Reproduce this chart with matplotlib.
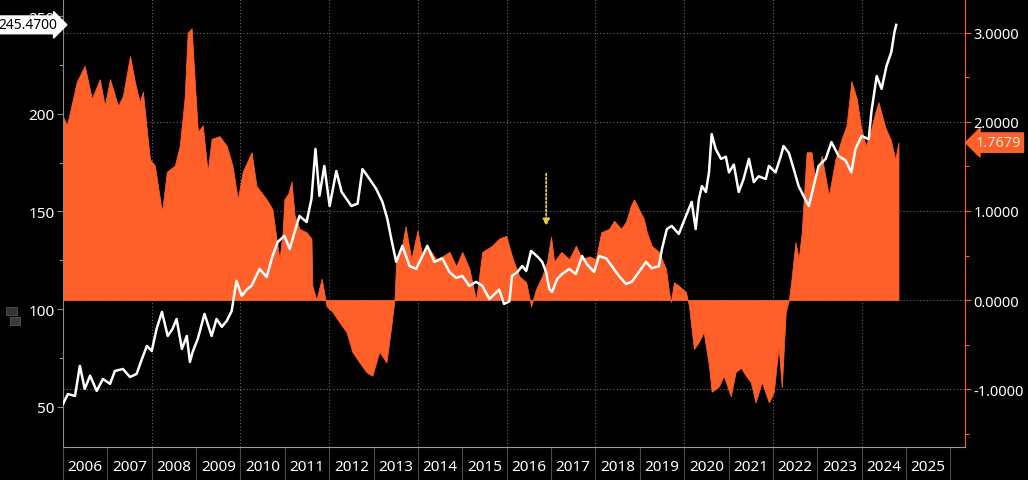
import numpy as np
import matplotlib
matplotlib.use("Agg")
import matplotlib.pyplot as plt
from matplotlib.ticker import MultipleLocator, FixedLocator, NullFormatter
from matplotlib.patches import Rectangle

plt.rcParams["font.family"] = ["Noto Sans", "DejaVu Sans"]

# White line (left axis) - decimal year / value
line_t = [2006.00, 2006.11, 2006.27, 2006.38, 2006.49, 2006.61, 2006.76, 2006.90, 2007.06, 2007.17,
          2007.35, 2007.51, 2007.66, 2007.78, 2007.89, 2008.00, 2008.11, 2008.23, 2008.36, 2008.47,
          2008.56, 2008.68, 2008.79, 2008.86, 2008.92, 2009.04, 2009.19, 2009.35, 2009.46, 2009.58,
          2009.69, 2009.80, 2009.91, 2010.03, 2010.14, 2010.25, 2010.43, 2010.59, 2010.72, 2010.84,
          2010.99, 2011.11, 2011.22, 2011.33, 2011.49, 2011.60, 2011.69, 2011.78, 2011.89, 2012.01,
          2012.16, 2012.28, 2012.39, 2012.50, 2012.64, 2012.75, 2012.91, 2013.06, 2013.20, 2013.31,
          2013.40, 2013.51, 2013.65, 2013.81, 2013.96, 2014.10, 2014.21, 2014.37, 2014.55, 2014.71,
          2014.86, 2015.00, 2015.16, 2015.31, 2015.45, 2015.61, 2015.83, 2015.94, 2016.06, 2016.12,
          2016.24, 2016.35, 2016.44, 2016.55, 2016.69, 2016.80, 2016.89, 2016.96, 2017.02, 2017.14,
          2017.25, 2017.41, 2017.56, 2017.70, 2017.81, 2017.97, 2018.08, 2018.24, 2018.37, 2018.53,
          2018.69, 2018.82, 2018.98, 2019.14, 2019.27, 2019.43, 2019.50, 2019.61, 2019.72, 2019.88,
          2020.04, 2020.17, 2020.26, 2020.33, 2020.40, 2020.49, 2020.56, 2020.62, 2020.71, 2020.83,
          2020.94, 2021.01, 2021.12, 2021.23, 2021.34, 2021.46, 2021.57, 2021.68, 2021.84, 2021.91,
          2022.06, 2022.18, 2022.24, 2022.36, 2022.47, 2022.58, 2022.69, 2022.81, 2022.92, 2023.03,
          2023.19, 2023.32, 2023.48, 2023.64, 2023.77, 2023.86, 2024.00, 2024.16, 2024.22, 2024.34,
          2024.45, 2024.56, 2024.67, 2024.74, 2024.78]
line_v = [51.5, 56.6, 55.6, 71.0, 59.2, 66.0, 58.2, 64.3, 61.8, 68.4,
          69.4, 65.3, 66.9, 74.6, 81.2, 78.6, 90.0, 98.6, 86.3, 90.0,
          95.0, 79.7, 86.3, 73.0, 78.0, 85.0, 97.6, 86.3, 95.0, 91.0,
          94.0, 99.0, 114.5, 106.8, 110.0, 112.0, 120.6, 116.5, 127.0, 134.4,
          137.5, 130.8, 139.5, 147.7, 144.6, 156.4, 182.0, 158.0, 173.3, 152.8,
          170.7, 160.0, 156.4, 152.8, 154.0, 171.7, 166.6, 161.5, 154.9, 146.2,
          135.9, 124.2, 132.4, 122.1, 120.6, 127.2, 132.4, 124.2, 126.0, 119.0,
          116.0, 117.0, 111.9, 114.0, 112.0, 105.2, 110.0, 102.7, 104.0, 117.0,
          119.0, 122.1, 119.5, 129.8, 127.0, 124.2, 119.0, 110.4, 108.8, 115.5,
          118.0, 120.6, 118.0, 127.2, 123.0, 119.0, 127.2, 126.0, 122.1, 117.0,
          112.9, 114.0, 119.0, 124.2, 121.0, 122.0, 130.8, 141.0, 142.6, 138.5,
          147.7, 154.9, 141.0, 156.0, 163.0, 160.0, 170.0, 189.6, 182.0, 176.9,
          178.0, 170.0, 174.0, 160.0, 166.6, 176.9, 165.0, 168.0, 166.6, 173.3,
          170.0, 178.4, 183.5, 180.0, 171.7, 163.0, 158.0, 152.8, 163.0, 173.3,
          176.9, 185.5, 178.4, 176.0, 170.0, 182.0, 188.6, 187.0, 200.9, 219.3,
          212.7, 224.4, 231.6, 241.8, 245.47]

# Orange area (right axis) - decimal year / value
area_t = [2006.00, 2006.09, 2006.31, 2006.49, 2006.65, 2006.83, 2006.94, 2007.06, 2007.24, 2007.35,
          2007.51, 2007.62, 2007.73, 2007.80, 2007.91, 2007.96, 2008.07, 2008.23, 2008.34, 2008.52,
          2008.63, 2008.74, 2008.81, 2008.90, 2008.97, 2009.04, 2009.15, 2009.26, 2009.35, 2009.53,
          2009.69, 2009.82, 2009.94, 2010.05, 2010.25, 2010.36, 2010.59, 2010.72, 2010.81, 2010.88,
          2010.95, 2010.99, 2011.08, 2011.15, 2011.22, 2011.33, 2011.49, 2011.60, 2011.62, 2011.71,
          2011.83, 2011.94, 2012.07, 2012.23, 2012.39, 2012.52, 2012.68, 2012.84, 2012.97, 2013.13,
          2013.29, 2013.40, 2013.47, 2013.51, 2013.63, 2013.72, 2013.85, 2013.99, 2014.10, 2014.21,
          2014.41, 2014.55, 2014.71, 2014.86, 2015.00, 2015.16, 2015.31, 2015.45, 2015.67, 2015.83,
          2015.99, 2016.12, 2016.28, 2016.44, 2016.55, 2016.66, 2016.80, 2016.91, 2017.00, 2017.07,
          2017.23, 2017.41, 2017.56, 2017.70, 2017.86, 2018.01, 2018.13, 2018.31, 2018.42, 2018.58,
          2018.69, 2018.80, 2018.87, 2018.98, 2019.09, 2019.16, 2019.27, 2019.43, 2019.59, 2019.66,
          2019.70, 2019.77, 2019.88, 2020.04, 2020.11, 2020.22, 2020.33, 2020.44, 2020.56, 2020.62,
          2020.78, 2020.89, 2021.05, 2021.16, 2021.28, 2021.39, 2021.50, 2021.61, 2021.75, 2021.91,
          2022.02, 2022.13, 2022.20, 2022.29, 2022.36, 2022.42, 2022.51, 2022.58, 2022.65, 2022.76,
          2022.87, 2022.96, 2023.10, 2023.26, 2023.41, 2023.55, 2023.66, 2023.77, 2023.89, 2023.98,
          2024.09, 2024.20, 2024.31, 2024.38, 2024.54, 2024.65, 2024.76, 2024.83]
area_v = [2.06, 1.96, 2.45, 2.63, 2.26, 2.48, 2.18, 2.48, 2.18, 2.29,
          2.74, 2.45, 2.22, 2.34, 1.81, 1.58, 1.51, 0.99, 1.44, 1.51,
          1.73, 2.26, 3.00, 3.05, 2.45, 1.89, 1.96, 1.44, 1.81, 1.84,
          1.73, 1.51, 1.13, 1.44, 1.66, 1.28, 1.13, 1.02, 0.69, 0.46,
          0.76, 1.13, 1.20, 1.33, 0.95, 0.80, 0.76, 0.69, 0.16, 0.00,
          0.24, -0.07, -0.13, -0.25, -0.36, -0.58, -0.70, -0.81, -0.85, -0.58,
          -0.70, -0.29, 0.00, 0.43, 0.57, 0.83, 0.46, 0.78, 0.49, 0.61,
          0.46, 0.49, 0.54, 0.38, 0.54, 0.35, 0.00, 0.54, 0.61, 0.69,
          0.72, 0.49, 0.27, 0.20, -0.07, 0.12, 0.27, 0.43, 0.71, 0.43,
          0.54, 0.46, 0.61, 0.46, 0.49, 0.46, 0.76, 0.80, 0.89, 0.80,
          0.88, 1.06, 1.13, 1.02, 0.91, 0.76, 0.61, 0.54, 0.35, 0.09,
          -0.02, 0.20, 0.16, 0.09, -0.07, -0.55, -0.47, -0.36, -0.74, -1.03,
          -0.97, -0.85, -1.08, -0.81, -0.76, -0.85, -0.92, -1.15, -0.92, -1.15,
          -1.03, -0.52, -0.98, -0.13, 0.00, 0.24, 0.65, 0.46, 0.76, 1.66,
          1.66, 1.33, 1.62, 1.17, 1.58, 1.81, 1.96, 2.46, 2.26, 1.96,
          1.73, 1.89, 2.11, 2.22, 1.93, 1.81, 1.58, 1.7679]

years = list(range(2006, 2026))
left_ticks = [50, 100, 150, 200, 250]
right_ticks = [-1, 0, 1, 2, 3]
grid_years = [2008, 2010, 2012, 2014, 2016, 2018, 2020, 2022, 2024]

ORANGE = "#ff5f28"
BG = "black"
AXC = "#8a8a8a"
XMIN, XMAX = 2006.0, 2026.33

fig = plt.figure(figsize=(10.28, 4.81), dpi=100, facecolor=BG)
ax2 = fig.add_axes([63 / 1028, 33 / 481, (965 - 63) / 1028, 448 / 481])
ax1 = ax2.twinx()
ax2.set_facecolor(BG)
ax1.set_zorder(ax2.get_zorder() + 1)
ax1.patch.set_visible(False)

# orange area on right scale
ax2.fill_between(area_t, 0, area_v, color=ORANGE, linewidth=0.6, edgecolor=ORANGE, zorder=2)
ax2.set_ylim(-1.65, 3.38)

# white line on left scale
ax1.plot(line_t, line_v, color="white", linewidth=1.8, zorder=3)
ax1.set_ylim(29.5, 258.7)

# put the white-line scale on the left, orange scale on the right
ax1.yaxis.tick_left()
ax1.yaxis.set_label_position("left")
ax2.yaxis.tick_right()
ax2.yaxis.set_label_position("right")

# grid
for v in right_ticks:
    ax2.axhline(v, color="#6a6a6a", linestyle=(0, (1, 2)), linewidth=0.8, zorder=1)
for y in grid_years:
    ax2.axvline(y, color="#6a6a6a", linestyle=(0, (1, 2)), linewidth=0.8, zorder=1)

# left axis ticks
ax1.yaxis.set_major_locator(FixedLocator(left_ticks))
ax1.yaxis.set_minor_locator(MultipleLocator(25))
ax1.tick_params(axis="y", which="major", colors="white", labelsize=11, length=4, width=0.8, pad=2)
ax1.tick_params(axis="y", which="minor", color=AXC, length=3, width=0.8)
ax1.tick_params(axis="y", which="major", color=AXC)

# right axis ticks
ax2.yaxis.set_major_locator(FixedLocator(right_ticks))
ax2.yaxis.set_minor_locator(MultipleLocator(0.5))
ax2.yaxis.set_major_formatter(plt.FuncFormatter(lambda v, p: f"{v:.4f}"))
ax2.tick_params(axis="y", which="major", color=ORANGE, labelcolor="white", labelsize=10.5, length=4, width=0.8, pad=2)
ax2.tick_params(axis="y", which="minor", color=ORANGE, length=3, width=0.8)

# x axis: year separators as long ticks, labels centred in each year
for a in (ax1, ax2):
    a.set_xlim(XMIN, XMAX)
ax2.xaxis.set_major_locator(FixedLocator(years + [2026]))
ax2.xaxis.set_major_formatter(NullFormatter())
ax2.xaxis.set_minor_locator(FixedLocator([y + 0.5 for y in years]))
ax2.xaxis.set_minor_formatter(plt.FuncFormatter(lambda v, p: str(int(v))))
ax2.tick_params(axis="x", which="major", direction="out", length=24, width=0.8, color="#4a4a4a")
ax2.tick_params(axis="x", which="minor", length=0, labelsize=11, labelcolor="white", pad=9)
ax1.tick_params(axis="x", which="both", bottom=False, labelbottom=False)

# spines
for a in (ax1, ax2):
    a.spines["top"].set_visible(False)
ax1.spines["bottom"].set_visible(False)
ax1.spines["right"].set_visible(False)
ax2.spines["left"].set_visible(False)
ax1.spines["left"].set_color(AXC)
ax2.spines["bottom"].set_color("#9a9a9a")
ax2.spines["right"].set_color(ORANGE)

# last value labels
ax1.text(-0.006, line_v[-1], f"{line_v[-1]:.4f}", transform=ax1.get_yaxis_transform(),
         ha="right", va="center", fontsize=10, color="black", zorder=10,
         bbox=dict(boxstyle="rarrow,pad=0.1", fc="white", ec="white"))
ax2.text(1.012, area_v[-1], f"{area_v[-1]:.4f}", transform=ax2.get_yaxis_transform(),
         ha="left", va="center", fontsize=10.5, color="#fbe3d6", zorder=10,
         bbox=dict(boxstyle="larrow,pad=0.15", fc=ORANGE, ec=ORANGE))

# yellow dotted arrow
ax2.annotate("", xy=(2016.89, 0.80), xytext=(2016.89, 1.45),
             arrowprops=dict(arrowstyle="-|>", color="#e6d040", linestyle=(0, (1, 1.2)),
                             linewidth=1.3, mutation_scale=10))

# small toolbar icons at left
fig.patches.append(Rectangle((6 / 1028, (481 - 316) / 481), 11 / 1028, 8 / 481,
                             transform=fig.transFigure, fc="#333333", ec="#555555", lw=0.6))
fig.patches.append(Rectangle((10 / 1028, (481 - 326) / 481), 10 / 1028, 8 / 481,
                             transform=fig.transFigure, fc="#3a3a3a", ec="#5a5a5a", lw=0.6))

fig.savefig("out.png", dpi=100, facecolor=BG)
